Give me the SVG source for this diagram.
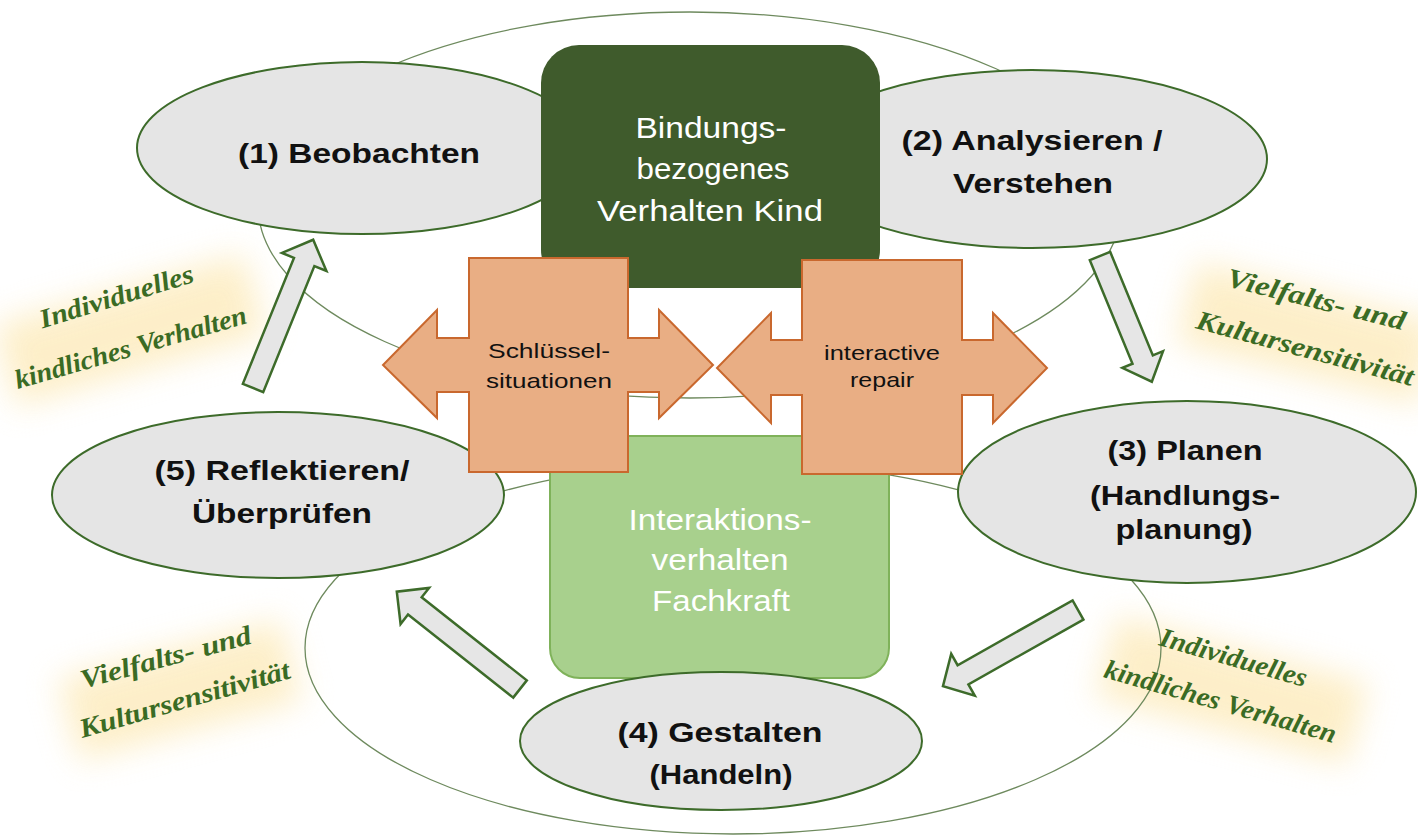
<svg xmlns="http://www.w3.org/2000/svg" width="1418" height="837" viewBox="0 0 1418 837">
<defs>
<filter id="glow" x="-40%" y="-80%" width="180%" height="260%"><feGaussianBlur stdDeviation="16"/></filter>
<style>
.bg{fill:none;stroke:#6e8a5e;stroke-width:1.3}
.node{fill:#e5e5e5;stroke:#3d6b2a;stroke-width:2}
.nt{font-family:"Liberation Sans",Arial,sans-serif;font-weight:bold;font-size:28px;fill:#111;text-anchor:middle}
.wt{font-family:"Liberation Sans",Arial,sans-serif;font-size:29px;fill:#fff;text-anchor:middle}
.ct{font-family:"Liberation Sans",Arial,sans-serif;font-size:21px;fill:#111;text-anchor:middle}
.cross{fill:#e9ae84;stroke:#c9682e;stroke-width:2;stroke-linejoin:miter}
.arr{fill:#e6e6e6;stroke:#3d6b2a;stroke-width:2.5;stroke-linejoin:miter}
.cur{font-family:"Liberation Serif","DejaVu Serif",serif;font-style:italic;font-weight:bold;font-size:27px;fill:#3a6b24;text-anchor:middle}
.gl{fill:#fdecc0;filter:url(#glow);opacity:0.85}
</style>
</defs>
<rect width="1418" height="837" fill="#fff"/>

<g id="glows">
<rect class="gl" x="-130" y="-42" width="260" height="84" transform="translate(130,330) rotate(-16)"/>
<rect class="gl" x="-125" y="-42" width="250" height="84" transform="translate(1308,333) rotate(14)"/>
<rect class="gl" x="-115" y="-42" width="230" height="84" transform="translate(180,690) rotate(-15)"/>
<rect class="gl" x="-130" y="-42" width="260" height="84" transform="translate(1232,690) rotate(15)"/>
</g>

<g id="background-rings">
<ellipse class="bg" cx="690" cy="205" rx="432" ry="193"/>
<ellipse class="bg" cx="733" cy="648" rx="428" ry="186"/>
</g>

<g id="node-1">
<ellipse class="node" cx="362" cy="148" rx="225" ry="86"/>
<text class="nt" x="359" y="163" textLength="242" lengthAdjust="spacingAndGlyphs">(1) Beobachten</text>
</g>
<g id="node-2">
<ellipse class="node" cx="1032" cy="159" rx="235" ry="89"/>
<text class="nt" x="1032" y="150" textLength="261" lengthAdjust="spacingAndGlyphs">(2) Analysieren  /</text>
<text class="nt" x="1033" y="193" textLength="160" lengthAdjust="spacingAndGlyphs">Verstehen</text>
</g>

<g id="kind-box">
<rect x="541" y="45" width="339" height="243" rx="38" fill="#3f5b2c"/>
<text class="wt" x="711" y="138" textLength="151" lengthAdjust="spacingAndGlyphs">Bindungs-</text>
<text class="wt" x="713" y="179" textLength="153" lengthAdjust="spacingAndGlyphs">bezogenes</text>
<text class="wt" x="710" y="221" textLength="226" lengthAdjust="spacingAndGlyphs">Verhalten  Kind</text>
</g>

<g id="node-5">
<ellipse class="node" cx="278" cy="495" rx="226" ry="83"/>
<text class="nt" x="282" y="480" textLength="255" lengthAdjust="spacingAndGlyphs">(5) Reflektieren/</text>
<text class="nt" x="282" y="523" textLength="180" lengthAdjust="spacingAndGlyphs">Überprüfen</text>
</g>
<g id="node-3">
<ellipse class="node" cx="1187" cy="492" rx="229" ry="91"/>
<text class="nt" x="1185" y="460" textLength="155" lengthAdjust="spacingAndGlyphs">(3) Planen</text>
<text class="nt" x="1185" y="505" textLength="190" lengthAdjust="spacingAndGlyphs">(Handlungs-</text>
<text class="nt" x="1184" y="539" textLength="137" lengthAdjust="spacingAndGlyphs">planung)</text>
</g>

<g id="fachkraft-box">
<rect x="550" y="436" width="339" height="242" rx="30" fill="#a8d08d" stroke="#7fb25a" stroke-width="2"/>
<text class="wt" x="720" y="530" textLength="183" lengthAdjust="spacingAndGlyphs">Interaktions-</text>
<text class="wt" x="720" y="570" textLength="137" lengthAdjust="spacingAndGlyphs">verhalten</text>
<text class="wt" x="721" y="611" textLength="138" lengthAdjust="spacingAndGlyphs">Fachkraft</text>
</g>

<g id="node-4">
<ellipse class="node" cx="721" cy="741" rx="201" ry="69"/>
<text class="nt" x="720" y="742" textLength="205" lengthAdjust="spacingAndGlyphs">(4) Gestalten</text>
<text class="nt" x="721" y="784" textLength="143" lengthAdjust="spacingAndGlyphs">(Handeln)</text>
</g>

<g id="schluesselsituationen">
<path class="cross" d="M469,258 H628 V338 H659 V310 L713,365 L659,418 V392 H628 V472 H469 V392 H437 V418 L383,365 L437,310 V338 H469 Z"/>
<text class="ct" x="549" y="358" textLength="122" lengthAdjust="spacingAndGlyphs">Schlüssel-</text>
<text class="ct" x="549" y="388" textLength="126" lengthAdjust="spacingAndGlyphs">situationen</text>
</g>
<g id="interactive-repair">
<path class="cross" d="M802,260 H962 V340 H993 V313 L1047,368 L993,423 V395 H962 V474 H802 V395 H771 V423 L717,368 L771,313 V340 H802 Z"/>
<text class="ct" x="882" y="360" textLength="116" lengthAdjust="spacingAndGlyphs">interactive</text>
<text class="ct" x="882" y="387" textLength="64" lengthAdjust="spacingAndGlyphs">repair</text>
</g>

<g id="connectors">
<polygon class="arr" transform="translate(253,388) rotate(-67.9)" points="0,-11 136,-11 136,-24 160,0 136,24 136,11 0,11"/>
<polygon class="arr" transform="translate(1100,256) rotate(67.6)" points="0,-11 112,-11 112,-22 136,0 112,22 112,11 0,11"/>
<polygon class="arr" transform="translate(1078,610) rotate(150.6)" points="0,-11 132,-11 132,-24 155,0 132,24 132,11 0,11"/>
<polygon class="arr" transform="translate(520,689) rotate(218.3)" points="0,-11 134,-11 134,-23 157,0 134,23 134,11 0,11"/>
</g>

<g id="label-individuell-1">
<text class="cur" transform="translate(119,305) rotate(-17)" textLength="160" lengthAdjust="spacingAndGlyphs">Individuelles</text>
<text class="cur" transform="translate(133,356) rotate(-16)" textLength="240" lengthAdjust="spacingAndGlyphs">kindliches Verhalten</text>
</g>
<g id="label-vielfalt-1">
<text class="cur" transform="translate(1314,308) rotate(14)" textLength="183" lengthAdjust="spacingAndGlyphs">Vielfalts- und</text>
<text class="cur" transform="translate(1303,357) rotate(15)" textLength="224" lengthAdjust="spacingAndGlyphs">Kultursensitivität</text>
</g>
<g id="label-vielfalt-2">
<text class="cur" transform="translate(168,666) rotate(-15)" textLength="176" lengthAdjust="spacingAndGlyphs">Vielfalts- und</text>
<text class="cur" transform="translate(187,708) rotate(-16)" textLength="218" lengthAdjust="spacingAndGlyphs">Kultursensitivität</text>
</g>
<g id="label-individuell-2">
<text class="cur" transform="translate(1231,666) rotate(16)" textLength="152" lengthAdjust="spacingAndGlyphs">Individuelles</text>
<text class="cur" transform="translate(1218,710) rotate(16)" textLength="240" lengthAdjust="spacingAndGlyphs">kindliches Verhalten</text>
</g>
</svg>
